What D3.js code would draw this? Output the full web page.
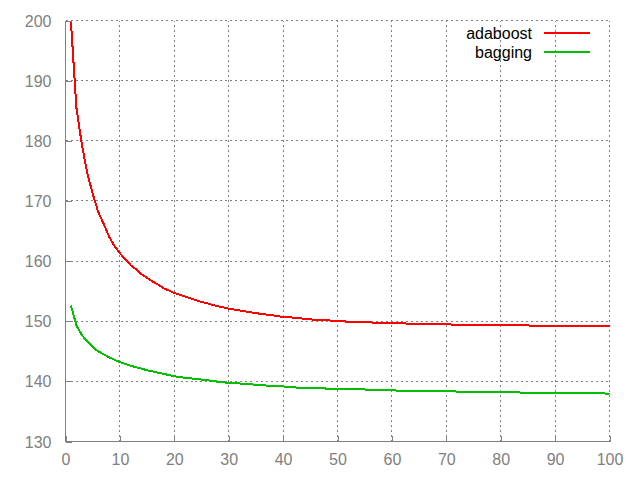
<!DOCTYPE html>
<html><head><meta charset="utf-8">
<script src="https://cdn.jsdelivr.net/npm/d3@7"></script>
<style>body{margin:0;background:#fff}svg{display:block}</style>
</head><body>
<svg id="c" width="640" height="480"></svg>
<script>
const seriesNames = ["adaboost", "bagging"];
const xValues = d3.range(1, 101);
const adaboost = [
199.8,185.5,179.4,174.6,171.2,168.2,166.2,164.1,162.5,161.3,
160.3,159.3,158.6,157.8,157.2,156.6,156.1,155.5,155.1,154.7,
154.4,154.1,153.8,153.5,153.2,153.0,152.7,152.5,152.3,152.1,
151.95,151.8,151.65,151.5,151.35,151.2,151.1,151.0,150.85,150.7,
150.65,150.6,150.5,150.4,150.3,150.25,150.2,150.15,150.1,150.05,
150.0,149.9,149.85,149.85,149.8,149.8,149.75,149.7,149.7,149.7,
149.65,149.65,149.6,149.55,149.55,149.55,149.5,149.5,149.5,149.5,
149.45,149.4,149.4,149.4,149.4,149.4,149.38,149.38,149.36,149.36,
149.35,149.35,149.35,149.34,149.3,149.25,149.25,149.25,149.24,149.24,
149.23,149.23,149.22,149.22,149.22,149.21,149.21,149.2,149.2,149.2];
const bagging = [
152.6,149.3,147.7,146.6,145.7,145.0,144.5,144.0,143.6,143.2,
142.9,142.6,142.35,142.1,141.85,141.65,141.45,141.25,141.05,140.85,
140.7,140.6,140.5,140.4,140.3,140.2,140.05,139.95,139.85,139.75,
139.7,139.65,139.6,139.5,139.45,139.35,139.3,139.25,139.2,139.15,
139.1,139.0,138.95,138.9,138.9,138.85,138.85,138.8,138.8,138.75,
138.75,138.7,138.7,138.65,138.65,138.6,138.6,138.58,138.56,138.55,
138.45,138.44,138.43,138.42,138.42,138.41,138.41,138.4,138.4,138.4,
138.38,138.3,138.29,138.28,138.27,138.27,138.26,138.26,138.25,138.25,
138.25,138.24,138.15,138.14,138.13,138.12,138.12,138.11,138.11,138.1,
138.1,138.1,138.1,138.1,138.1,138.1,138.1,138.08,138.0,137.9];
const xTicks = [0,10,20,30,40,50,60,70,80,90,100];
const yTicks = [130,140,150,160,170,180,190,200];
const colors = ["#ff0000", "#00c000"];

const svg = d3.select("#c");
const x = d3.scaleLinear().domain([0,100]).range([65.5, 609.5]);
const y = d3.scaleLinear().domain([130,200]).range([441.5, 20.5]);
const gray = "#808080";

// grid
const grid = svg.append("g").attr("stroke", gray).attr("stroke-width", 1)
  .attr("stroke-dasharray", "2,3").attr("shape-rendering", "crispEdges");
grid.selectAll("line.v").data(xTicks.slice(1)).join("line")
  .attr("x1", d => x(d)).attr("x2", d => x(d)).attr("y1", y(130)).attr("y2", y(200));
grid.selectAll("line.h").data(yTicks.slice(1)).join("line")
  .attr("x1", x(0)).attr("x2", x(100)).attr("y1", d => y(d)).attr("y2", d => y(d));

// axes
const xAxis = d3.axisBottom(x).tickValues(xTicks).tickSize(-6).tickPadding(14).tickFormat(d3.format("d"));
const yAxis = d3.axisLeft(y).tickValues(yTicks).tickSize(-6).tickPadding(14).tickFormat(d3.format("d"));
const gx = svg.append("g").attr("transform", `translate(0,${y(130)})`).call(xAxis);
const gy = svg.append("g").attr("transform", `translate(${x(0)},0)`).call(yAxis);
[gx, gy].forEach(g => {
  g.select(".domain").attr("stroke", gray).attr("shape-rendering", "crispEdges");
  g.selectAll(".tick line").attr("stroke", gray).attr("shape-rendering", "crispEdges");
  g.selectAll(".tick text").attr("fill", gray)
    .style("font-family", "'Liberation Sans', Arial, sans-serif").style("font-size", "16px");
});
gx.select(".domain").attr("d", `M${x(0)},0H${x(100)}`);
gy.select(".domain").attr("d", `M0,${y(130)}V${y(200)}`);
gx.selectAll(".tick text").attr("y", 12).attr("dy", "0.71em");
gy.selectAll(".tick text").attr("x", -14).attr("dy", "0.35em");

// lines
const line = d3.line().x((d,i) => x(xValues[i])).y(d => y(d));
[adaboost, bagging].forEach((s, k) => {
  svg.append("path").datum(s).attr("d", line).attr("fill", "none")
    .attr("stroke", colors[k]).attr("stroke-width", 2).attr("shape-rendering", "crispEdges");
});

// legend
const leg = svg.append("g");
seriesNames.forEach((n, k) => {
  const ly = 33 + k * 19;
  leg.append("text").attr("x", 532).attr("y", ly).attr("dy", "0.35em")
    .attr("text-anchor", "end").attr("fill", "#000")
    .style("font-family", "'Liberation Sans', Arial, sans-serif").style("font-size", "16px").text(n);
  leg.append("line").attr("x1", 544).attr("x2", 590).attr("y1", ly).attr("y2", ly)
    .attr("stroke", colors[k]).attr("stroke-width", 2).attr("shape-rendering", "crispEdges");
});
</script>
</body></html>
